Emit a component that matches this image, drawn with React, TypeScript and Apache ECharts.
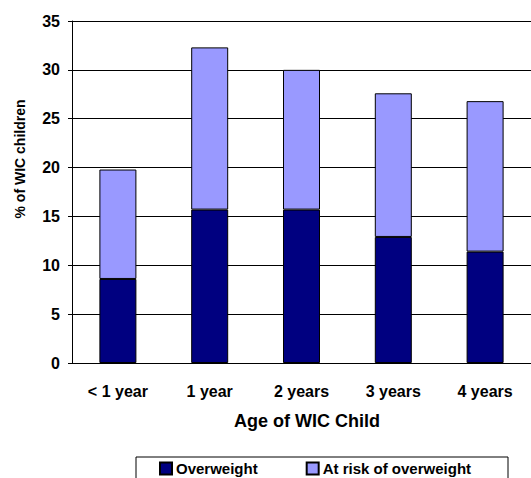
import React, { useEffect, useRef } from "react";
import * as echarts from "echarts";

const categories = ["< 1 year", "1 year", "2 years", "3 years", "4 years"];
const overweight = [8.6, 15.7, 15.7, 12.9, 11.4];
const atRisk = [11.2, 16.6, 14.3, 14.7, 15.4];
const yTicks = { min: 0, max: 35, interval: 5 };
const seriesNames = ["Overweight", "At risk of overweight"];

const FONT = "'Liberation Sans', Arial, sans-serif";

export default function App() {
  const ref = useRef<HTMLDivElement>(null);
  useEffect(() => {
    if (!ref.current) return;
    const chart = echarts.init(ref.current, null, { renderer: "svg" });
    chart.setOption({
      animation: false,
      backgroundColor: "#ffffff",
      textStyle: { fontFamily: FONT },
      grid: { left: 72, top: 21, width: 460, height: 342 },
      xAxis: {
        type: "category",
        data: categories,
        axisLine: { show: true, lineStyle: { color: "#000", width: 1 } },
        axisTick: { show: false },
        axisLabel: {
          color: "#000",
          fontWeight: "bold",
          fontSize: 16,
          fontFamily: FONT,
          margin: 20,
          interval: 0,
        },
      },
      yAxis: {
        type: "value",
        min: yTicks.min,
        max: yTicks.max,
        interval: yTicks.interval,
        axisLine: { show: true, lineStyle: { color: "#000", width: 1 } },
        axisTick: { show: true, length: 4, lineStyle: { color: "#000" } },
        axisLabel: {
          color: "#000",
          fontWeight: "bold",
          fontSize: 16,
          fontFamily: FONT,
          margin: 12,
        },
        splitLine: { show: true, lineStyle: { color: "#000", width: 1 } },
      },
      legend: {
        left: 159,
        top: 461,
        padding: 0,
        itemWidth: 12,
        itemHeight: 12,
        itemGap: 48,
        icon: "rect",
        data: seriesNames,
        textStyle: {
          color: "#000",
          fontWeight: "bold",
          fontSize: 15,
          lineHeight: 15,
          fontFamily: FONT,
          padding: [0, 0, 0, -1],
        },
      },
      series: [
        {
          name: seriesNames[0],
          type: "bar",
          stack: "total",
          barWidth: 37,
          data: overweight,
          itemStyle: { color: "#000080", borderColor: "#000", borderWidth: 1 },
        },
        {
          name: seriesNames[1],
          type: "bar",
          stack: "total",
          barWidth: 37,
          data: atRisk,
          itemStyle: { color: "#9999FF", borderColor: "#000", borderWidth: 1 },
        },
      ],
      graphic: [
        {
          type: "text",
          x: 20,
          y: 159,
          rotation: Math.PI / 2,
          style: {
            text: "% of WIC children",
            textAlign: "center",
            textVerticalAlign: "middle",
            fontWeight: "bold",
            fontSize: 14,
            fontFamily: FONT,
            fill: "#000",
          },
        },
        {
          type: "text",
          x: 307,
          y: 421,
          style: {
            text: "Age of WIC Child",
            textAlign: "center",
            textVerticalAlign: "middle",
            fontWeight: "bold",
            fontSize: 18,
            fontFamily: FONT,
            fill: "#000",
          },
        },
        {
          type: "rect",
          shape: { x: 136, y: 457, width: 372, height: 40 },
          style: { fill: "none", stroke: "#000", lineWidth: 1 },
        },
      ],
    });
    return () => chart.dispose();
  }, []);
  return (
    <div
      ref={ref}
      style={{ position: "fixed", left: 0, top: 0, width: 531, height: 478 }}
    />
  );
}
